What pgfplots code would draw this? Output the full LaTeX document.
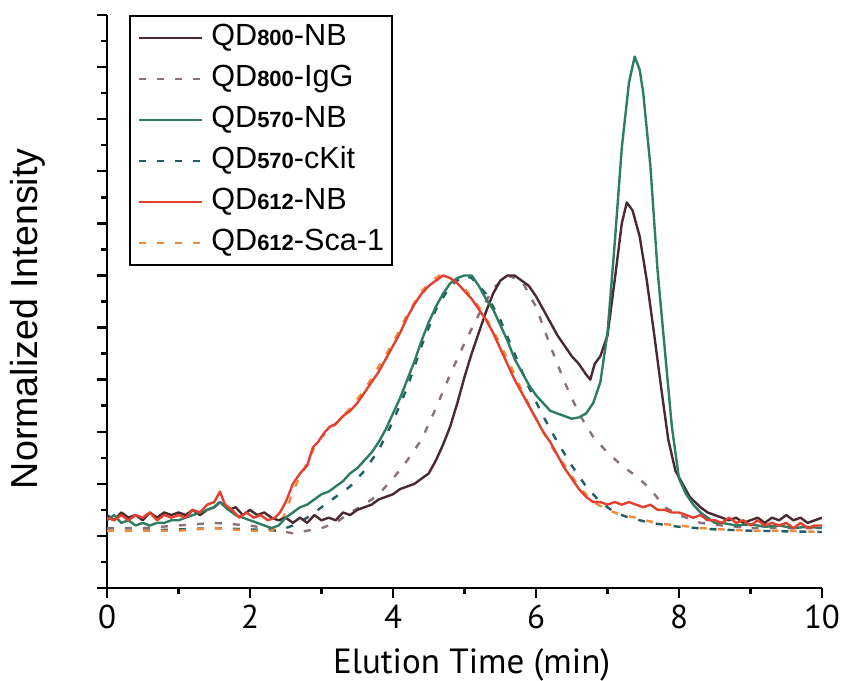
\documentclass[border=0pt]{standalone}
\usepackage{fontspec}
\setmainfont{Liberation Sans}
\newfontfamily\ptsans{PT Sans}
\usepackage{pgfplots}
\pgfplotsset{compat=1.18}
\definecolor{cbrown}{HTML}{4A2A30}
\definecolor{cigg}{HTML}{8A7078}
\definecolor{cgreen}{HTML}{2E7D62}
\definecolor{ckit}{HTML}{1F5F63}
\definecolor{cred}{HTML}{E5402F}
\definecolor{corange}{HTML}{F28A3A}
\newcommand{\qd}[2]{QD{\bfseries\fontsize{11}{11}\selectfont #1}-#2}
\begin{document}
\begin{tikzpicture}
\begin{axis}[
  name=ax,
  scale only axis,
  width=357.5pt, height=286.5pt,
  xmin=0, xmax=10, ymin=-0.2, ymax=2.0,
  axis x line*=bottom, axis y line*=left,
  axis line style={line width=1.2pt},
  xtick={0,2,...,10}, minor x tick num=1,
  ytick={-0.2,0,...,2.0}, minor y tick num=1,
  yticklabels={},
  tick align=outside,
  major tick length=5pt, minor tick length=3pt,
  every tick/.style={black, line width=1.2pt},
  /pgf/number format/assume math mode=true,
  xticklabel style={font=\ptsans\fontsize{16.5}{16.5}\selectfont},
  xlabel={Elution Time (min)},
  ylabel={Normalized Intensity},
  xlabel style={font=\ptsans\fontsize{17.5}{17.5}\selectfont, at={(axis description cs:0.51,-0.134)}, anchor=center},
  ylabel style={font=\fontsize{18.8}{18.8}\selectfont, at={(axis description cs:-0.1105,0.47)}, anchor=center},
  legend style={at={(0.031,1.0)}, anchor=north west, draw=black, line width=0.8pt,
    font=\fontsize{15.3}{15.3}\selectfont, inner xsep=4pt, inner ysep=4pt, row sep=6.5pt, column sep=4pt,
    nodes={inner sep=0pt, text height=11pt, text depth=3pt}},
  legend cell align=left,
  legend image code/.code={\draw[#1, line width=1.2pt] (0pt,0pt) -- (31.5pt,0pt);},
  every axis plot/.append style={line width=1.2pt, line join=round},
]
\addlegendimage{cbrown, solid}\addlegendentry{\qd{800}{NB}}
\addlegendimage{cigg, dash pattern=on 3.5pt off 5.5pt}\addlegendentry{\qd{800}{IgG}}
\addlegendimage{cgreen, solid}\addlegendentry{\qd{570}{NB}}
\addlegendimage{ckit, dash pattern=on 3.5pt off 5.5pt}\addlegendentry{\qd{570}{cKit}}
\addlegendimage{cred, solid}\addlegendentry{\qd{612}{NB}}
\addlegendimage{corange, dash pattern=on 3.5pt off 5.5pt}\addlegendentry{\qd{612}{Sca-1}}

% QD800-IgG (dashed)
\addplot[cigg, dash pattern=on 3.5pt off 5.5pt, forget plot] coordinates {
(0,.03) (0.5,.03) (1.0,.04) (1.5,.05) (2.0,.04) (2.4,.02) (2.6,.01) (2.8,.02) (3.0,.03) (3.2,.05)
(3.4,.09) (3.6,.12) (3.8,.16) (4.0,.22) (4.2,.29) (4.4,.37) (4.6,.49) (4.8,.62) (5.0,.74) (5.2,.85)
(5.4,.95) (5.6,1.0) (5.8,.98) (6.0,.88) (6.2,.73) (6.4,.59) (6.6,.47) (6.8,.38) (7.0,.32) (7.2,.27)
(7.4,.23) (7.6,.18) (7.8,.11) (8.0,.08) (8.3,.05) (8.6,.04) (9.0,.03) (9.5,.03) (10,.03)};
% QD570-cKit (dashed)
\addplot[ckit, dash pattern=on 3.5pt off 5.5pt, forget plot] coordinates {
(0,.02) (0.5,.02) (1.0,.025) (1.5,.03) (2.0,.025) (2.4,.02) (2.6,.04) (2.8,.07) (3.0,.11) (3.2,.15)
(3.4,.19) (3.6,.25) (3.8,.33) (4.0,.44) (4.2,.57) (4.4,.73) (4.6,.87) (4.8,.96) (5.0,1.0) (5.1,.99)
(5.3,.93) (5.5,.83) (5.7,.70) (5.9,.57) (6.1,.46) (6.3,.36) (6.5,.27) (6.7,.19) (6.9,.13) (7.1,.09)
(7.3,.07) (7.6,.05) (8.0,.035) (8.5,.025) (9.0,.02) (10,.015)};
% QD612-Sca-1 (dashed)
\addplot[corange, dash pattern=on 3.5pt off 5.5pt, forget plot] coordinates {
(0,.02) (0.5,.02) (1.0,.02) (1.5,.03) (2.0,.02) (2.3,.02) (2.4,.04) (2.5,.09) (2.6,.17) (2.7,.23)
(2.8,.28) (2.9,.34) (3.0,.38) (3.2,.43) (3.4,.49) (3.6,.56) (3.8,.65) (4.0,.74) (4.2,.85) (4.4,.94)
(4.55,.98) (4.65,1.0) (4.8,.99) (5.0,.95) (5.2,.88) (5.4,.79) (5.6,.68) (5.8,.56) (6.0,.45) (6.2,.35)
(6.4,.27) (6.6,.19) (6.8,.13) (7.0,.10) (7.2,.08) (7.4,.07) (7.6,.055) (7.8,.045) (8.0,.04) (8.3,.03)
(8.6,.025) (9.0,.02) (9.5,.02) (10,.015)};
% QD800-NB
\addplot[cbrown, forget plot] coordinates {
(0.0,.08) (0.1,.06) (0.2,.09) (0.3,.07) (0.4,.08) (0.5,.06) (0.6,.09) (0.7,.07) (0.8,.09) (0.9,.08)
(1.0,.09) (1.1,.08) (1.2,.10) (1.3,.08) (1.4,.10) (1.5,.11) (1.58,.13) (1.7,.10) (1.8,.11) (1.9,.08)
(2.0,.10) (2.1,.08) (2.2,.09) (2.3,.07) (2.4,.06) (2.5,.07) (2.6,.05) (2.7,.07) (2.8,.05) (2.9,.08)
(3.0,.06) (3.1,.07) (3.2,.06) (3.3,.09) (3.4,.08) (3.5,.10) (3.6,.11) (3.7,.12) (3.8,.14) (3.9,.15)
(4.0,.16) (4.1,.18) (4.2,.19) (4.3,.20) (4.4,.22) (4.5,.24) (4.6,.29) (4.7,.35) (4.8,.42) (4.9,.51)
(5.0,.61) (5.1,.70) (5.2,.78) (5.3,.86) (5.4,.93) (5.5,.98) (5.6,1.0) (5.7,1.0) (5.8,.98) (5.9,.96)
(6.0,.92) (6.1,.87) (6.2,.82) (6.3,.77) (6.4,.73) (6.5,.69) (6.6,.66) (6.7,.62) (6.76,.60) (6.82,.66)
(6.9,.69) (7.0,.77) (7.1,.98) (7.2,1.20) (7.27,1.28) (7.35,1.25) (7.45,1.15) (7.55,.98) (7.65,.78) (7.75,.57)
(7.85,.37) (7.95,.25) (8.05,.20) (8.15,.15) (8.3,.11) (8.4,.09) (8.5,.08) (8.6,.07) (8.7,.06) (8.8,.07)
(8.9,.05) (9.0,.06) (9.1,.07) (9.2,.05) (9.3,.07) (9.4,.06) (9.5,.08) (9.6,.06) (9.7,.07) (9.8,.05)
(9.9,.06) (10.0,.07)};
% QD570-NB
\addplot[cgreen, forget plot] coordinates {
(0.0,.06) (0.1,.08) (0.2,.05) (0.3,.06) (0.4,.04) (0.5,.05) (0.6,.04) (0.7,.05) (0.8,.05) (0.9,.06)
(1.0,.06) (1.1,.07) (1.2,.08) (1.3,.09) (1.4,.10) (1.5,.11) (1.58,.13) (1.7,.10) (1.8,.08) (1.9,.07)
(2.0,.06) (2.1,.05) (2.2,.04) (2.3,.03) (2.4,.04) (2.5,.07) (2.6,.09) (2.7,.11) (2.8,.12) (2.9,.14)
(3.0,.16) (3.1,.17) (3.2,.19) (3.3,.21) (3.4,.24) (3.5,.26) (3.6,.29) (3.7,.32) (3.8,.36) (3.9,.41)
(4.0,.47) (4.1,.53) (4.2,.60) (4.3,.67) (4.4,.75) (4.5,.82) (4.6,.88) (4.7,.93) (4.8,.97) (4.9,.99)
(5.0,1.00) (5.1,1.0) (5.2,.96) (5.3,.91) (5.4,.87) (5.5,.81) (5.6,.75) (5.7,.68) (5.8,.63) (5.9,.58)
(6.0,.54) (6.1,.51) (6.2,.48) (6.3,.47) (6.4,.46) (6.5,.45) (6.6,.455) (6.7,.47) (6.8,.51) (6.9,.59)
(7.0,.78) (7.1,1.12) (7.2,1.49) (7.3,1.74) (7.38,1.84) (7.45,1.79) (7.5,1.70) (7.6,1.42) (7.7,1.02) (7.8,.72)
(7.9,.42) (8.0,.22) (8.1,.16) (8.2,.12) (8.3,.09) (8.4,.07) (8.5,.05) (8.6,.05) (8.8,.04) (9.0,.045)
(9.2,.035) (9.4,.04) (9.6,.03) (9.8,.035) (10,.03)};
% QD612-NB
\addplot[cred, forget plot] coordinates {
(0.0,.07) (0.1,.06) (0.2,.08) (0.3,.06) (0.4,.08) (0.5,.07) (0.6,.09) (0.7,.06) (0.8,.08) (0.9,.07)
(1.0,.08) (1.1,.07) (1.2,.10) (1.3,.09) (1.4,.12) (1.5,.13) (1.58,.17) (1.65,.12) (1.75,.10) (1.85,.07)
(1.95,.09) (2.05,.07) (2.15,.08) (2.25,.06) (2.35,.07) (2.42,.09) (2.5,.13) (2.6,.20) (2.7,.24) (2.8,.27)
(2.88,.34) (2.95,.36) (3.05,.40) (3.12,.42) (3.2,.43) (3.3,.46) (3.4,.48) (3.5,.51) (3.6,.55) (3.7,.59)
(3.8,.63) (3.9,.68) (4.0,.73) (4.1,.78) (4.2,.84) (4.3,.89) (4.4,.93) (4.5,.96) (4.6,.98) (4.7,1.00)
(4.8,.99) (4.9,.97) (5.0,.94) (5.1,.91) (5.2,.87) (5.3,.83) (5.4,.78) (5.5,.72) (5.6,.66) (5.7,.60)
(5.8,.55) (5.9,.50) (6.0,.45) (6.1,.40) (6.2,.36) (6.3,.31) (6.4,.26) (6.5,.22) (6.6,.18) (6.7,.15)
(6.8,.13) (6.9,.13) (7.0,.12) (7.1,.13) (7.2,.12) (7.3,.13) (7.4,.12) (7.5,.11) (7.6,.12) (7.7,.10)
(7.8,.10) (7.9,.09) (8.0,.09) (8.1,.08) (8.2,.07) (8.3,.08) (8.4,.06) (8.5,.06) (8.6,.05) (8.7,.07)
(8.8,.05) (8.9,.06) (9.0,.04) (9.1,.06) (9.2,.04) (9.3,.05) (9.4,.04) (9.5,.05) (9.6,.03) (9.7,.05)
(9.8,.03) (9.9,.04) (10.0,.04)};
\end{axis}
\pgfresetboundingbox
\path[use as bounding box] ([shift={(-53.5pt,-46.5pt)}]ax.south west) rectangle ([shift={(368pt,294pt)}]ax.south west);
\end{tikzpicture}
\end{document}
